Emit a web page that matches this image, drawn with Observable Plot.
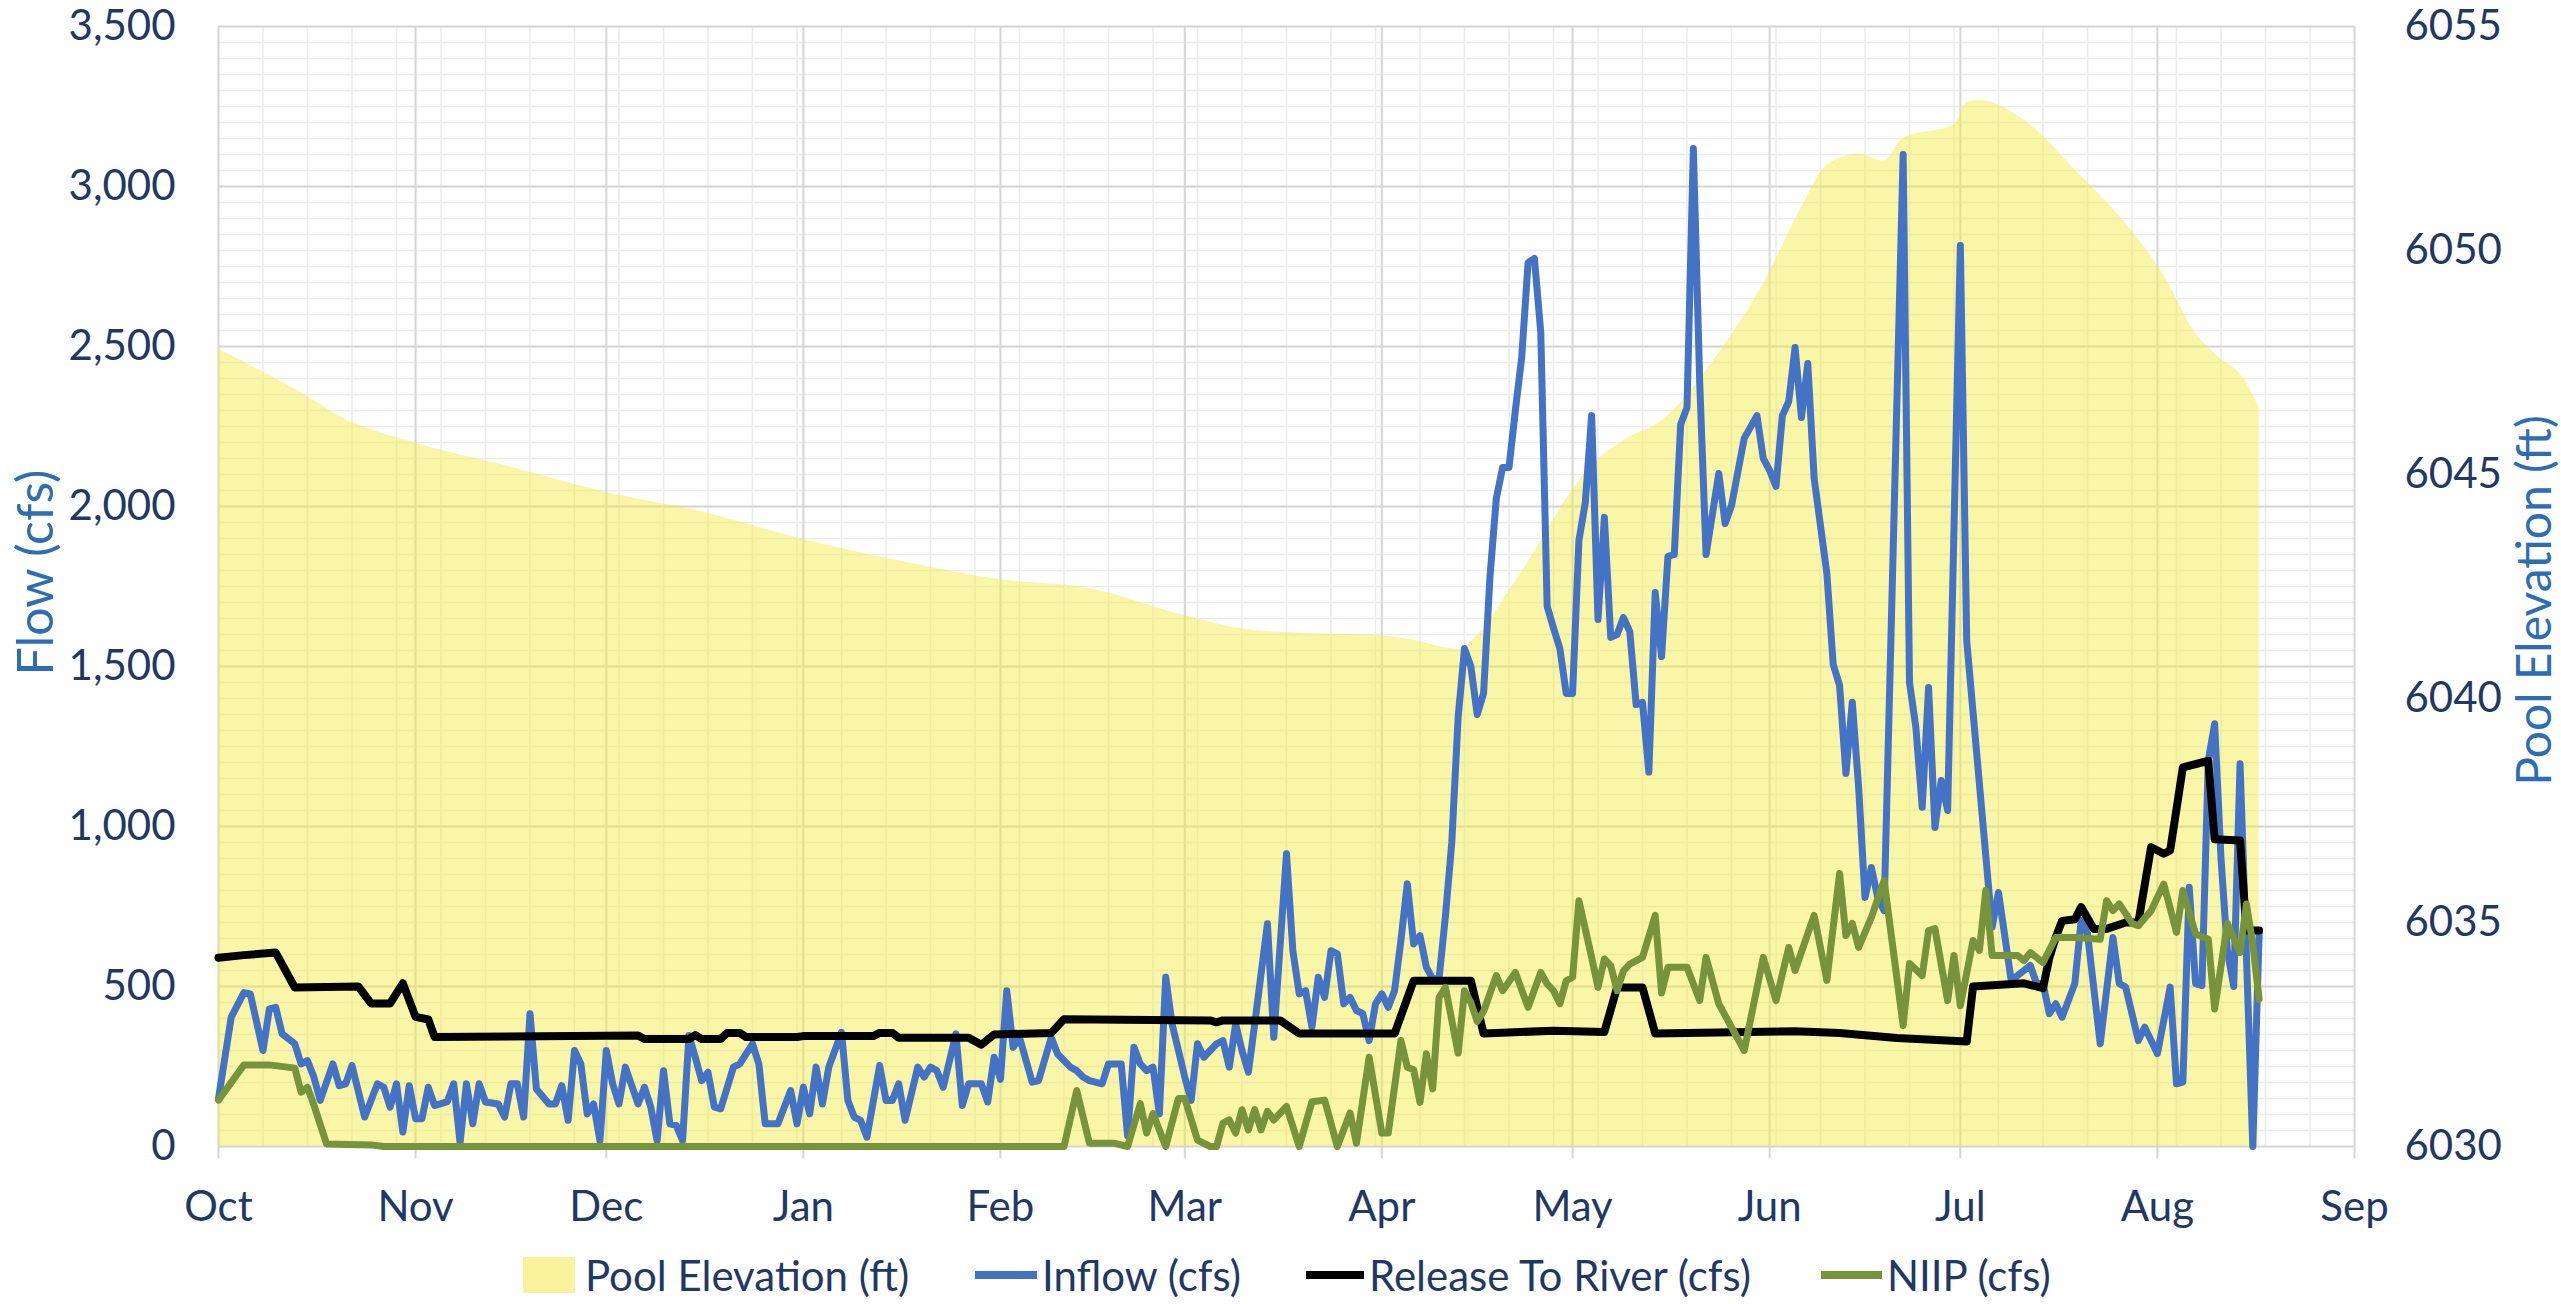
<!DOCTYPE html>
<html>
<head>
<meta charset="utf-8">
<script src="https://cdn.jsdelivr.net/npm/d3@7"></script>
<script src="https://cdn.jsdelivr.net/npm/@observablehq/plot@0.6"></script>
<style>
  html, body { margin: 0; padding: 0; background: #fff; }
  #wrap { width: 2561px; height: 1304px; position: relative; font-family: Lato, "Open Sans", sans-serif; overflow: hidden; }
  #chart { position: absolute; left: 0; top: 0; }
  .lg { position: absolute; top: 1275px; transform: translateY(-50%); font-size: 42px; color: #1f3864; white-space: nowrap; line-height: 1; }
  .sym { position: absolute; top: 1275px; transform: translateY(-50%); }
</style>
</head>
<body>
<div id="wrap">
  <div id="chart"></div>
  <div class="sym" style="left:523px;width:52px;height:36px;background:#f9f49c"></div>
  <div class="lg" style="left:585px">Pool Elevation (ft)</div>
  <div class="sym" style="left:975px;width:62px;height:8px;background:#4472c4"></div>
  <div class="lg" style="left:1042px">Inflow (cfs)</div>
  <div class="sym" style="left:1306px;width:58px;height:8px;background:#000"></div>
  <div class="lg" style="left:1369px">Release To River (cfs)</div>
  <div class="sym" style="left:1821px;width:61px;height:8px;background:#77933c"></div>
  <div class="lg" style="left:1887px">NIIP (cfs)</div>
</div>
<script>
// Water year starting Oct 1 (day 0)
const monthLabels = ["Oct","Nov","Dec","Jan","Feb","Mar","Apr","May","Jun","Jul","Aug","Sep"];
const flowTicks = [0, 500, 1000, 1500, 2000, 2500, 3000, 3500];
const elevTicks = [6030, 6035, 6040, 6045, 6050, 6055];

const poolDays = [0, 15, 19, 31, 45, 61, 75, 92, 106, 123, 137, 152, 161, 171, 183, 188, 195, 198, 203, 208, 212, 216, 221, 228, 232, 237, 243, 249, 253, 258, 262, 265, 273, 275, 277, 285, 292, 300, 306, 311, 314, 319, 321];
const poolFt = [6047.8, 6046.65, 6046.3, 6045.7, 6045.2, 6044.6, 6044.2, 6043.55, 6043.1, 6042.65, 6042.45, 6041.85, 6041.55, 6041.45, 6041.4, 6041.3, 6041.1, 6041.4, 6042.4, 6043.5, 6044.45, 6045.2, 6045.75, 6046.3, 6046.95, 6047.9, 6049.25, 6050.95, 6051.9, 6052.15, 6052.0, 6052.5, 6052.8, 6053.3, 6053.35, 6052.8, 6051.8, 6050.6, 6049.45, 6048.15, 6047.7, 6047.05, 6046.5];

const inflowDays = [0,2,4,5,7,8,9,10,12,13,14,15,16,18,19,20,21,23,25,26,27,28,29,30,31,32,33,34,36,37,38,39,40,41,42,44,45,46,47,48,49,50,52,53,54,55,56,57,58,59,60,61,62,63,64,66,67,68,69,70,71,72,73,74,75,76,77,78,79,81,82,84,85,86,88,90,91,92,93,94,95,96,98,99,100,101,102,104,105,106,107,108,110,111,112,113,114,116,117,118,120,121,122,123,124,125,126,128,129,131,132,134,135,136,137,139,140,142,143,144,145,146,147,148,149,150,151,152,153,154,155,157,158,159,160,161,162,163,165,166,168,169,170,171,172,173,174,175,176,177,178,179,180,181,182,183,184,185,186,187,188,189,190,191,192,193,194,195,196,197,198,199,200,201,202,203,204,205,206,207,208,209,210,211,212,213,214,215,216,217,218,219,220,221,222,223,224,225,226,227,228,229,230,231,232,233,234,236,237,238,240,242,243,244,245,246,247,248,249,250,251,253,254,255,256,257,258,259,260,261,262,265,266,267,268,269,270,271,272,274,275,279,280,282,284,285,286,287,288,289,290,292,293,294,296,298,299,300,302,303,305,307,308,309,310,311,312,313,314,315,316,317,318,320,321];
const inflowCfs = [150,404,481,477,300,430,435,352,321,258,268,217,144,258,190,196,253,92,196,185,123,196,45,190,87,87,185,128,140,196,13,196,71,196,139,133,92,196,196,92,415,180,133,133,190,82,300,258,102,133,18,300,196,133,248,133,185,123,18,237,71,66,18,347,279,206,232,123,118,248,258,321,258,71,71,175,71,185,102,248,133,248,357,144,92,82,29,253,144,144,196,82,248,217,248,237,185,352,128,196,196,139,279,210,487,310,341,201,206,341,289,248,237,217,206,196,258,258,34,310,258,237,248,102,529,383,300,217,144,321,279,321,331,248,383,300,232,383,696,341,915,612,477,487,373,529,466,612,602,446,466,425,415,331,446,477,435,487,644,821,633,659,560,524,525,720,950,1342,1556,1500,1350,1416,1778,2025,2122,2122,2300,2466,2762,2775,2544,1688,1620,1556,1416,1416,1894,2012,2284,1647,1966,1591,1600,1653,1609,1381,1388,1170,1731,1531,1844,1850,2256,2309,3119,2387,1850,2103,1947,2003,2213,2284,2150,2113,2063,2284,2328,2497,2278,2447,2088,1791,1506,1441,1166,1388,1122,778,872,778,737,3100,1450,1310,1060,1434,997,1144,1050,2816,1580,685,794,519,550,566,509,509,415,446,404,509,706,665,321,653,509,498,331,373,290,498,196,201,810,509,503,1206,1321,900,612,500,1196,0,665];

const releaseDays = [0,4,9,12,22,24,27,29,31,33,34,66,67,74,75,76,79,80,82,83,91,92,103,104,106,107,118,120,122,131,133,156,157,158,167,170,185,188,197,199,210,218,220,224,226,248,255,264,275,276,284,287,288,289,290,292,293,295,297,300,302,304,306,307,309,312,313,314,318,319,321];
const releaseCfs = [590,598,606,497,500,447,447,510,405,397,342,347,336,336,348,336,336,355,355,342,342,345,345,355,355,340,340,318,350,355,398,394,388,394,394,353,353,518,518,353,362,358,497,497,353,360,355,339,328,500,510,495,590,653,705,710,748,680,680,700,700,935,915,925,1185,1200,1205,960,956,675,675];

const niipDays = [0,4,8,12,13,14,15,17,24,26,133,135,137,141,143,145,146,147,149,151,152,154,156,157,158,159,160,161,162,163,164,165,166,168,170,172,174,176,178,179,181,183,184,186,187,188,189,190,191,192,193,195,196,197,198,199,201,202,204,206,208,209,210,211,212,213,214,216,217,218,219,220,221,222,224,226,227,228,231,233,234,236,240,243,245,247,248,251,253,255,256,257,258,260,262,265,266,268,269,270,272,273,274,276,277,278,279,283,284,285,287,289,292,296,297,298,299,301,302,304,306,308,309,311,313,314,316,318,319,320,321];
const niipCfs = [145,255,255,245,170,185,130,8,5,0,0,175,10,10,0,134,42,103,0,150,150,20,0,0,73,83,42,115,52,115,52,110,83,125,0,140,145,0,105,10,279,42,42,331,248,240,138,290,180,466,497,292,487,450,391,422,534,487,544,435,544,508,487,446,518,529,768,591,497,586,565,487,549,570,591,722,480,560,560,456,591,446,300,591,456,622,550,722,519,853,659,697,622,716,831,378,572,534,675,681,456,597,440,644,613,800,597,597,581,606,575,653,653,648,768,737,758,697,690,737,820,669,800,664,648,430,697,606,758,633,461];

const wyStart = Date.UTC(2019, 9, 1);
const toDate = d => new Date(wyStart + d * 86400000);
const rows = (days, vals) => days.map((d, i) => ({date: toDate(d), v: vals[i]}));
const elevToFlow = e => (e - 6030) * 140; // 25 ft span over 3500 cfs span

const pool = poolDays.map((d, i) => ({date: toDate(d), v: elevToFlow(poolFt[i])}));
const inflow = rows(inflowDays, inflowCfs);
const release = rows(releaseDays, releaseCfs);
const niip = rows(niipDays, niipCfs);

const monthDates = monthLabels.map((m, i) => new Date(Date.UTC(2019, 9 + i, 1)));
const weekDates = d3.range(0, 336, 7).map(toDate);
const minorFlow = d3.range(0, 3501, 50);
const txt = "#1f3864";
const ttl = "#2e6db4";

const chart = Plot.plot({
  width: 2561,
  height: 1235,
  marginTop: 26, marginBottom: 89, marginLeft: 218, marginRight: 207,
  x: {type: "utc", domain: [monthDates[0], monthDates[11]], axis: null},
  y: {domain: [0, 3500], axis: null},
  style: {fontFamily: "Lato, 'Open Sans', sans-serif", background: "#fff", overflow: "visible"},
  marks: [
    Plot.ruleY(minorFlow, {stroke: "#ebebeb", strokeWidth: 1.5}),
    Plot.ruleX(weekDates, {stroke: "#ebebeb", strokeWidth: 1.5}),
    Plot.ruleY(flowTicks, {stroke: "#d6d6d6", strokeWidth: 2}),
    Plot.ruleX(monthDates, {y1: -38, y2: 3500, stroke: "#d6d6d6", strokeWidth: 2}),
    Plot.areaY(pool, {x: "date", y: "v", fill: "#f5ec3d", fillOpacity: 0.45, curve: "monotone-x"}),
    Plot.line(inflow, {x: "date", y: "v", stroke: "#4472c4", strokeWidth: 7, strokeLinejoin: "round", strokeLinecap: "round"}),
    Plot.line(release, {x: "date", y: "v", stroke: "#000000", strokeWidth: 8, strokeLinejoin: "round", strokeLinecap: "round"}),
    Plot.line(niip, {x: "date", y: "v", stroke: "#77933c", strokeWidth: 7, strokeLinejoin: "round", strokeLinecap: "round"}),
    Plot.axisY(flowTicks, {anchor: "left", label: null, tickSize: 0, tickPadding: 43, tickFormat: d3.format(","), fontSize: 42, color: txt, fill: txt}),
    Plot.axisY(elevTicks.map(elevToFlow), {anchor: "right", label: null, tickSize: 0, tickPadding: 50, tickFormat: d => String(Math.round(6030 + d / 140)), fontSize: 42, color: txt, fill: txt}),
    Plot.axisX(monthDates, {anchor: "bottom", label: null, tickSize: 0, tickPadding: 45, tickFormat: (d, i) => monthLabels[i], fontSize: 42, color: txt, fill: txt}),
    Plot.text(["Flow (cfs)"], {frameAnchor: "left", textAnchor: "middle", dx: -182, dy: -14, rotate: -90, fontSize: 50, fill: ttl}),
    Plot.text(["Pool Elevation (ft)"], {frameAnchor: "right", textAnchor: "middle", dx: 181, dy: 14, rotate: -90, fontSize: 48, fill: ttl})
  ]
});
document.getElementById("chart").appendChild(chart);
</script>
</body>
</html>
